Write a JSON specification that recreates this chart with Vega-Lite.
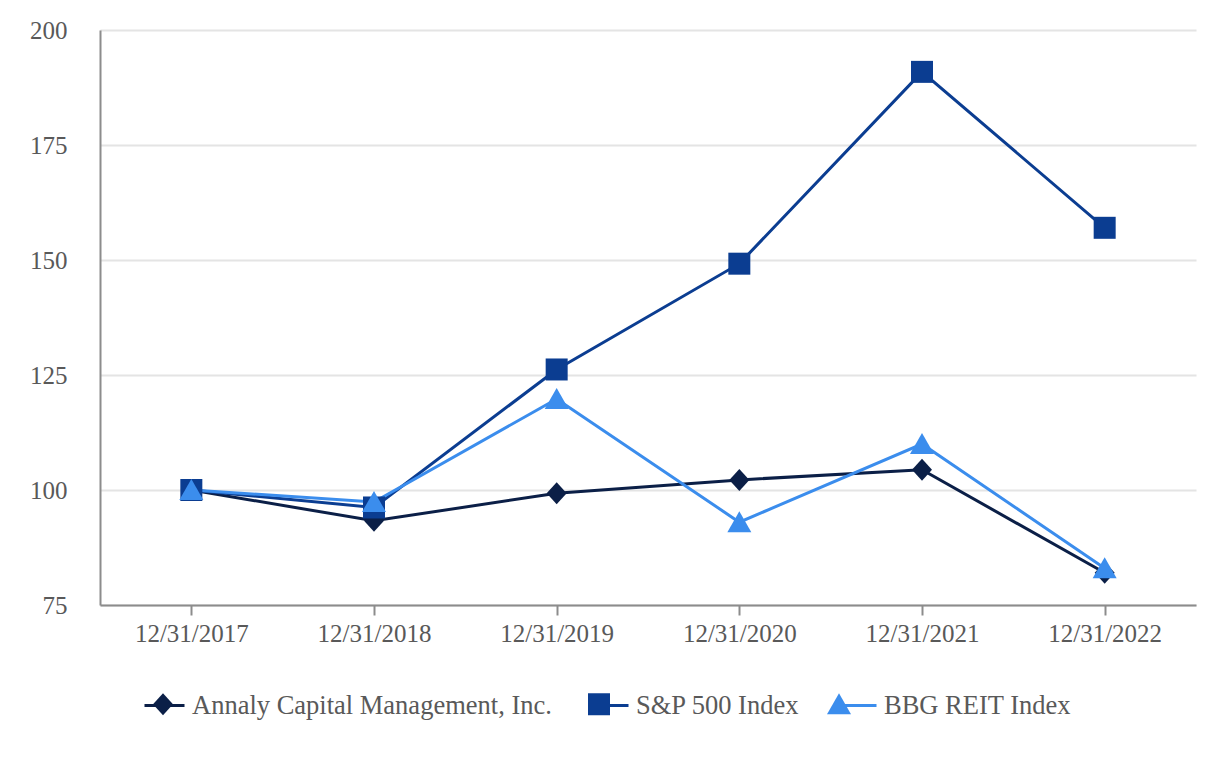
{
  "$schema": "https://vega.github.io/schema/vega-lite/v6.json",
  "width": 1096,
  "height": 575,
  "autosize": {"type": "none"},
  "padding": {"left": 100, "top": 30, "right": 30, "bottom": 155},
  "background": "white",
  "config": {"view": {"stroke": null}, "font": "Liberation Serif"},
  "data": {
    "values": [
      {"date": "12/31/2017", "series": "Annaly Capital Management, Inc.", "value": 100},
      {"date": "12/31/2018", "series": "Annaly Capital Management, Inc.", "value": 93.3},
      {"date": "12/31/2019", "series": "Annaly Capital Management, Inc.", "value": 99.3},
      {"date": "12/31/2020", "series": "Annaly Capital Management, Inc.", "value": 102.2},
      {"date": "12/31/2021", "series": "Annaly Capital Management, Inc.", "value": 104.4},
      {"date": "12/31/2022", "series": "Annaly Capital Management, Inc.", "value": 82},
      {"date": "12/31/2017", "series": "S&P 500 Index", "value": 100},
      {"date": "12/31/2018", "series": "S&P 500 Index", "value": 96.2},
      {"date": "12/31/2019", "series": "S&P 500 Index", "value": 126.2},
      {"date": "12/31/2020", "series": "S&P 500 Index", "value": 149.2},
      {"date": "12/31/2021", "series": "S&P 500 Index", "value": 190.9},
      {"date": "12/31/2022", "series": "S&P 500 Index", "value": 157},
      {"date": "12/31/2017", "series": "BBG REIT Index", "value": 100},
      {"date": "12/31/2018", "series": "BBG REIT Index", "value": 97.4},
      {"date": "12/31/2019", "series": "BBG REIT Index", "value": 119.8},
      {"date": "12/31/2020", "series": "BBG REIT Index", "value": 93},
      {"date": "12/31/2021", "series": "BBG REIT Index", "value": 110},
      {"date": "12/31/2022", "series": "BBG REIT Index", "value": 83}
    ]
  },
  "encoding": {
    "x": {
      "field": "date",
      "type": "ordinal",
      "scale": {"type": "point", "padding": 0.5},
      "axis": {
        "title": null,
        "labelAngle": 0,
        "labelFontSize": 25,
        "labelColor": "#595959",
        "domainColor": "#8c8c8c",
        "domainWidth": 2,
        "tickColor": "#8c8c8c",
        "tickWidth": 2,
        "tickSize": 10,
        "labelPadding": 6,
        "grid": false
      }
    },
    "y": {
      "field": "value",
      "type": "quantitative",
      "scale": {"domain": [75, 200], "nice": false, "zero": false},
      "axis": {
        "title": null,
        "values": [75, 100, 125, 150, 175, 200],
        "labelFontSize": 25,
        "labelColor": "#595959",
        "ticks": false,
        "labelPadding": 33,
        "domainColor": "#8c8c8c",
        "domainWidth": 2,
        "gridColor": "#e4e4e4",
        "gridWidth": 2
      }
    }
  },
  "layer": [
    {
      "mark": {"type": "line", "strokeWidth": 3},
      "encoding": {
        "color": {
          "field": "series",
          "type": "nominal",
          "sort": ["Annaly Capital Management, Inc.", "S&P 500 Index", "BBG REIT Index"],
          "scale": {"range": ["#0b1f47", "#0b3d91", "#3b8ded"]},
          "legend": {
            "orient": "none",
            "legendX": 43,
            "legendY": 654,
            "direction": "horizontal",
            "title": null,
            "labelFontSize": 26.5,
            "labelColor": "#595959",
            "labelLimit": 0,
            "symbolType": "stroke",
            "symbolSize": 1600,
            "symbolStrokeWidth": 3,
            "labelOffset": 6,
            "columnPadding": 30
          }
        }
      }
    },
    {
      "mark": {"type": "point", "filled": true, "opacity": 1, "size": 1600},
      "encoding": {
        "fill": {
          "field": "series",
          "type": "nominal",
          "scale": {
            "domain": ["Annaly Capital Management, Inc.", "S&P 500 Index", "BBG REIT Index"],
            "range": ["#0b1f47", "#0b3d91", "#3b8ded"]
          },
          "legend": {
            "orient": "none",
            "legendX": 43,
            "legendY": 654,
            "direction": "horizontal",
            "title": null,
            "labelFontSize": 26.5,
            "labelOpacity": 0,
            "labelLimit": 0,
            "symbolSize": 1600,
            "symbolStrokeWidth": 0,
            "labelOffset": 6,
            "columnPadding": 30
          }
        },
        "shape": {
          "field": "series",
          "type": "nominal",
          "scale": {
            "domain": ["Annaly Capital Management, Inc.", "S&P 500 Index", "BBG REIT Index"],
            "range": ["M0,-0.55L0.5,0L0,0.55L-0.5,0Z", "M-0.55,-0.55L0.55,-0.55L0.55,0.55L-0.55,0.55Z", "M0,-0.55L0.6,0.5L-0.6,0.5Z"]
          },
          "legend": {
            "orient": "none",
            "legendX": 43,
            "legendY": 654,
            "direction": "horizontal",
            "title": null,
            "labelFontSize": 26.5,
            "labelOpacity": 0,
            "labelLimit": 0,
            "symbolSize": 1600,
            "symbolStrokeWidth": 0,
            "labelOffset": 6,
            "columnPadding": 30
          }
        }
      }
    }
  ]
}
